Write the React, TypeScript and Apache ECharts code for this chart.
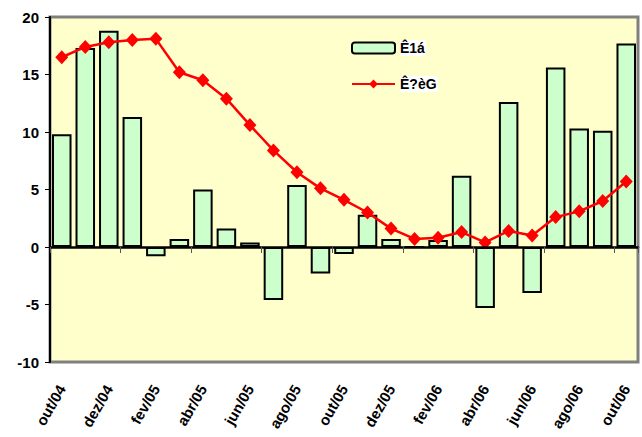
import React, { useEffect, useRef } from "react";
import * as echarts from "echarts";

const categories = [
  "out/04", "nov/04", "dez/04", "jan/05", "fev/05", "mar/05", "abr/05", "mai/05", "jun/05",
  "jul/05", "ago/05", "set/05", "out/05", "nov/05", "dez/05", "jan/06", "fev/06", "mar/06",
  "abr/06", "mai/06", "jun/06", "jul/06", "ago/06", "set/06", "out/06",
];
const barName = "Ê1á";
const lineName = "Ê?èG";
const barValues = [
  9.8, 17.3, 18.8, 11.3, -0.8, 0.7, 5.0, 1.6, 0.4, -4.6, 5.4, -2.3, -0.6, 2.8, 0.7, 0.0, 0.6,
  6.2, -5.3, 12.6, -4.0, 15.6, 10.3, 10.1, 17.7,
];
const lineValues = [
  16.5, 17.4, 17.8, 18.0, 18.1, 15.2, 14.5, 12.9, 10.6, 8.4, 6.5, 5.1, 4.1, 3.0, 1.6, 0.7, 0.8,
  1.3, 0.4, 1.4, 1.0, 2.6, 3.1, 4.0, 5.7,
];
const yMin = -10;
const yMax = 20;
const yInterval = 5;

const FONT = "Liberation Sans, Arial, sans-serif";

export default function App() {
  const ref = useRef<HTMLDivElement>(null);
  useEffect(() => {
    if (!ref.current) return;
    const chart = echarts.init(ref.current, undefined, { renderer: "svg" });
    chart.setOption({
      animation: false,
      backgroundColor: "#ffffff",
      grid: {
        left: 50,
        top: 17,
        width: 588,
        height: 345,
        show: true,
        backgroundColor: "#FFFFCC",
        borderColor: "#808080",
        borderWidth: 3,
      },
      legend: {
        orient: "vertical",
        left: 351,
        top: 40,
        padding: 0,
        itemWidth: 43,
        itemHeight: 11,
        itemGap: 20,
        textStyle: {
          fontFamily: FONT,
          fontWeight: "bold",
          fontSize: 14,
          color: "#000",
          backgroundColor: "#ffffff",
          padding: [1, 1, 1, 0],
        },
        data: [barName, lineName],
      },
      xAxis: [
        {
          type: "category",
          data: categories,
          axisLine: { onZero: true, lineStyle: { color: "#000", width: 2.5 } },
          axisTick: { show: true, length: 6, inside: false, lineStyle: { color: "#555", width: 1 } },
          axisLabel: { show: false },
          splitLine: { show: false },
          z: 10,
        },
        {
          type: "category",
          data: categories,
          position: "bottom",
          axisLine: { show: false, onZero: false },
          axisTick: { show: false },
          axisLabel: {
            interval: 1,
            rotate: 60,
            margin: 24,
            fontFamily: FONT,
            fontWeight: "bold",
            fontSize: 15,
            color: "#000",
          },
        },
      ],
      yAxis: {
        type: "value",
        min: yMin,
        max: yMax,
        interval: yInterval,
        axisLine: { show: true, lineStyle: { color: "#000", width: 2 } },
        axisTick: { show: true, length: 5, lineStyle: { color: "#000", width: 1 } },
        splitLine: { show: false },
        axisLabel: {
          margin: 11,
          fontFamily: FONT,
          fontWeight: "bold",
          fontSize: 15,
          color: "#000",
        },
      },
      series: [
        {
          name: barName,
          type: "bar",
          xAxisIndex: 0,
          data: barValues,
          barCategoryGap: "17%",
          itemStyle: { color: "#CCFFCC", borderColor: "#000", borderWidth: 2 },
          z: 2,
        },
        {
          name: lineName,
          type: "line",
          xAxisIndex: 0,
          data: lineValues,
          symbol: "diamond",
          symbolSize: [13, 14],
          lineStyle: { color: "#FF0000", width: 2.5 },
          itemStyle: { color: "#FF0000" },
          z: 3,
        },
      ],
    });
    return () => chart.dispose();
  }, []);
  return <div ref={ref} style={{ width: 642, height: 437, position: "absolute", left: 0, top: 0 }} />;
}
